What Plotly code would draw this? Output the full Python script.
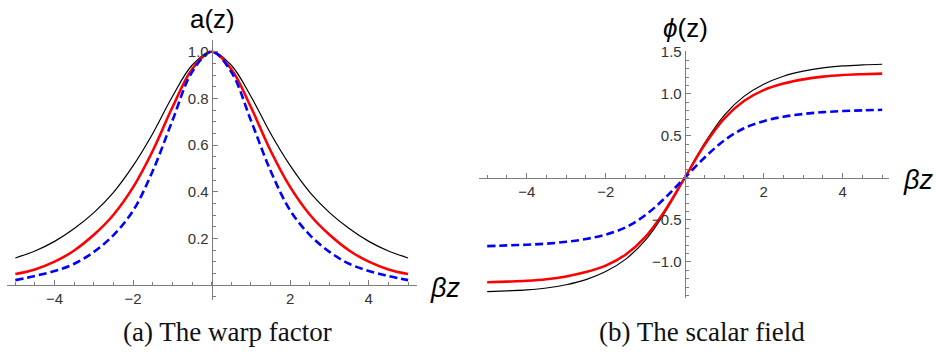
import plotly.graph_objects as go

# beta*z sample points
z = [-5, -4.5, -4, -3.5, -3, -2.5, -2, -1.5, -1, -0.5, 0,
     0.5, 1, 1.5, 2, 2.5, 3, 3.5, 4, 4.5, 5]

# (a) warp factor a(z)
a_black = [0.117, 0.147, 0.188, 0.243, 0.311, 0.398, 0.512, 0.650, 0.808, 0.942, 1.000,
           0.942, 0.808, 0.650, 0.512, 0.398, 0.311, 0.243, 0.188, 0.147, 0.117]
a_red = [0.048, 0.068, 0.101, 0.149, 0.216, 0.302, 0.420, 0.576, 0.762, 0.925, 1.000,
         0.925, 0.762, 0.576, 0.420, 0.302, 0.216, 0.149, 0.101, 0.068, 0.048]
a_blue = [0.022, 0.040, 0.061, 0.092, 0.143, 0.215, 0.320, 0.490, 0.705, 0.913, 1.000,
          0.913, 0.705, 0.490, 0.320, 0.215, 0.143, 0.092, 0.061, 0.040, 0.022]

# (b) scalar field phi(z)
phi_black = [-1.355, -1.345, -1.333, -1.311, -1.272, -1.211, -1.115, -0.97, -0.745, -0.41, 0,
             0.41, 0.745, 0.97, 1.115, 1.21, 1.27, 1.31, 1.332, 1.344, 1.352]
phi_red = [-1.243, -1.235, -1.225, -1.206, -1.173, -1.122, -1.045, -0.915, -0.705, -0.39, 0,
           0.39, 0.705, 0.915, 1.045, 1.122, 1.172, 1.205, 1.224, 1.234, 1.241]
phi_blue = [-0.813, -0.804, -0.796, -0.783, -0.761, -0.728, -0.675, -0.59, -0.445, -0.24, 0,
            0.24, 0.445, 0.59, 0.675, 0.728, 0.76, 0.782, 0.795, 0.803, 0.81]

x_ticks = [-4, -2, 2, 4]
a_ticks = [0.2, 0.4, 0.6, 0.8, 1.0]
phi_ticks = [-1.0, -0.5, 0.5, 1.0, 1.5]

W, H = 936, 358


def fx(p):
    return p / W


def fy(p):
    return 1 - p / H


# pixel boxes of the two panels
xa_rng, xa_px = [-5.22, 5.22], [6.7, 416.7]
ya_rng, ya_px = [-0.063, 1.05], [300, 40]
xb_rng, xb_px = [-5.2, 5.18], [479.3, 889.3]
yb_rng, yb_px = [-1.43, 1.51], [298, 51]


def zero_pos(rng, px, horiz):
    p = px[0] + (0 - rng[0]) / (rng[1] - rng[0]) * (px[1] - px[0])
    return fx(p) if horiz else fy(p)


axis_gray = "#7d7d7d"
tick_font = dict(family="Liberation Sans, Arial", size=15, color="#333333")
common = dict(showgrid=False, zeroline=False, showline=True, linecolor=axis_gray,
              linewidth=1, ticks="inside", ticklen=5, tickwidth=1, tickcolor=axis_gray,
              tickfont=tick_font, anchor="free", automargin=False, fixedrange=True)

fig = go.Figure()

styles = [
    dict(color="black", width=1.2),
    dict(color="#ff0000", width=2.6),
    dict(color="#0000ff", width=2.6, dash="8px,4px"),
]

for ys, st in zip([a_black, a_red, a_blue], styles):
    fig.add_trace(go.Scatter(x=z, y=ys, mode="lines", line=dict(shape="spline", **st),
                             xaxis="x", yaxis="y", hoverinfo="skip"))

for ys, st in zip([phi_black, phi_red, phi_blue], styles):
    fig.add_trace(go.Scatter(x=z, y=ys, mode="lines", line=dict(shape="spline", **st),
                             xaxis="x2", yaxis="y2", hoverinfo="skip"))

fig.update_layout(
    width=W, height=H,
    margin=dict(l=0, r=0, t=0, b=0, autoexpand=False),
    paper_bgcolor="white", plot_bgcolor="white",
    showlegend=False,
    xaxis=dict(common, domain=[fx(xa_px[0]), fx(xa_px[1])], range=xa_rng,
               position=zero_pos(ya_rng, ya_px, False), tickvals=x_ticks,
               minor=dict(ticks="inside", ticklen=3, tickcolor=axis_gray, dtick=0.5, tick0=0)),
    yaxis=dict(common, domain=[fy(ya_px[0]), fy(ya_px[1])], range=ya_rng,
               position=zero_pos(xa_rng, xa_px, True), tickvals=a_ticks, tickformat=".1f",
               minor=dict(ticks="inside", ticklen=3, tickcolor=axis_gray, dtick=0.05, tick0=0)),
    xaxis2=dict(common, domain=[fx(xb_px[0]), fx(xb_px[1])], range=xb_rng,
                position=zero_pos(yb_rng, yb_px, False), tickvals=x_ticks,
                minor=dict(ticks="inside", ticklen=3, tickcolor=axis_gray, dtick=0.5, tick0=0)),
    yaxis2=dict(common, domain=[fy(yb_px[0]), fy(yb_px[1])], range=yb_rng,
                position=zero_pos(xb_rng, xb_px, True), tickvals=phi_ticks, tickformat=".1f",
                minor=dict(ticks="inside", ticklen=3, tickcolor=axis_gray, dtick=0.1, tick0=0)),
)

lab_font = dict(family="Liberation Sans, Arial", size=26, color="black")
cap_font = dict(family="Liberation Serif, Times New Roman", size=27, color="#111111")

notes = [
    ("a(z)", 212, 19, "center", lab_font),
    ("<i>ϕ</i>(z)", 685, 28, "center", lab_font),
    ("<i>βz</i>", 428, 288, "left", dict(lab_font, size=27)),
    ("<i>βz</i>", 901, 180, "left", dict(lab_font, size=27)),
    ("(a) The warp factor", 227.5, 332, "center", cap_font),
    ("(b) The scalar field", 702, 332, "center", cap_font),
]
for text, px, py, xa, font in notes:
    fig.add_annotation(text=text, x=fx(px), y=fy(py), xref="paper", yref="paper",
                       xanchor=xa, yanchor="middle", showarrow=False, font=font)

# drop the browser's default 8px body margin so the figure sits at 0,0
fig.write_html("out.html", config={"displayModeBar": False},
               post_script="document.body.style.margin = '0';")
